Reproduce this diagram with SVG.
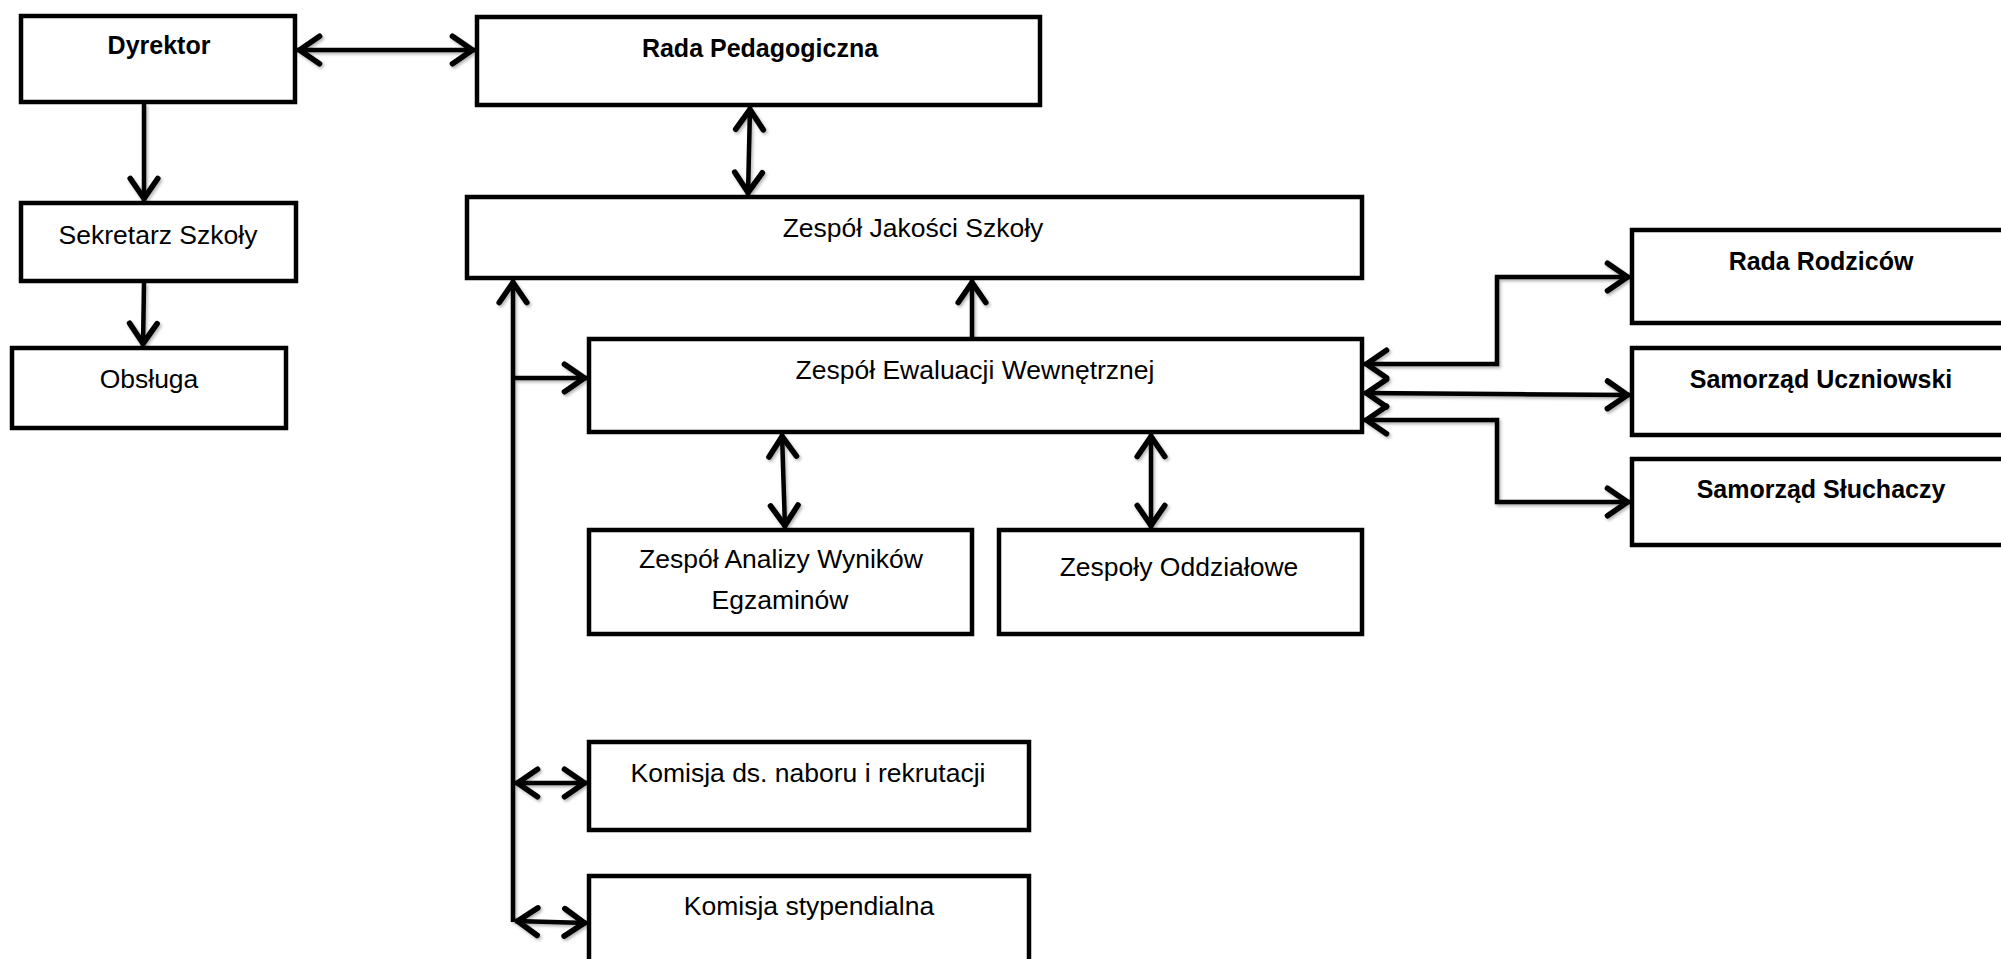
<svg xmlns="http://www.w3.org/2000/svg" width="2001" height="959" viewBox="0 0 2001 959">
  <style>
    .box { fill: #fff; stroke: #000; stroke-width: 4.5; }
    .lbl { font-family: "Liberation Sans", Arial, sans-serif; font-size: 26.5px; fill: #000; text-anchor: middle; }
    .b { font-weight: bold; font-size: 25px; }
    .con { fill: none; stroke: #000; stroke-width: 4.5; stroke-linejoin: miter; }
    .a2 { marker-start: url(#ah); marker-end: url(#ah); }
    .a1 { marker-end: url(#ah); }
    .a0 { marker-start: url(#ah); }
  </style>
  <defs>
    <marker id="ah" markerUnits="userSpaceOnUse" markerWidth="40" markerHeight="40" viewBox="-24 -16 30 32" refX="0" refY="0" orient="auto-start-reverse" overflow="visible">
      <path d="M-18,-11 L-2,0 L-18,11" fill="none" stroke="#000" stroke-width="4.5" stroke-linecap="round" stroke-linejoin="round"/>
    </marker>
    <filter id="sh" x="-5%" y="-5%" width="110%" height="110%">
      <feDropShadow dx="1.5" dy="2" stdDeviation="1.5" flood-color="#000" flood-opacity="0.3"/>
    </filter>
  </defs>
  <rect x="0" y="0" width="2001" height="959" fill="#fff"/>

  <g id="connectors" filter="url(#sh)">
    <path class="con a2" d="M297,50 H475"/>
    <path class="con a1" d="M144,104 V201"/>
    <path class="con a1" d="M144,283 L143,346"/>
    <path class="con a2" d="M750,107 L748,195"/>
    <path class="con a0" d="M513,280 V922"/>
    <path class="con a1" d="M513,378 H587"/>
    <path class="con a1" d="M972,337 V280"/>
    <path class="con a2" d="M782,434 L785,528"/>
    <path class="con a2" d="M1151,434 V528"/>
    <path class="con a2" d="M515,783 H587"/>
    <path class="con a2" d="M515,921 L587,923"/>
    <path class="con a2" d="M1364,364 H1497 V277 H1630"/>
    <path class="con a2" d="M1364,393 L1630,395"/>
    <path class="con a2" d="M1364,420 H1497 V502 H1630"/>
  </g>

  <g id="dyrektor">
    <rect class="box" x="21" y="16" width="274" height="86"/>
    <text class="lbl b" x="159" y="54">Dyrektor</text>
  </g>
  <g id="sekretarz">
    <rect class="box" x="21" y="203" width="275" height="78"/>
    <text class="lbl" x="158" y="244">Sekretarz Szkoły</text>
  </g>
  <g id="obsluga">
    <rect class="box" x="12" y="348" width="274" height="80"/>
    <text class="lbl" x="149" y="388">Obsługa</text>
  </g>
  <g id="rada-pedagogiczna">
    <rect class="box" x="477" y="17" width="563" height="88"/>
    <text class="lbl b" x="760" y="57">Rada Pedagogiczna</text>
  </g>
  <g id="zespol-jakosci">
    <rect class="box" x="467" y="197" width="895" height="81"/>
    <text class="lbl" x="913" y="237">Zespół Jakości Szkoły</text>
  </g>
  <g id="zespol-ewaluacji">
    <rect class="box" x="589" y="339" width="773" height="93"/>
    <text class="lbl" x="975" y="379">Zespół Ewaluacji Wewnętrznej</text>
  </g>
  <g id="zespol-analizy">
    <rect class="box" x="589" y="530" width="383" height="104"/>
    <text class="lbl" x="781" y="568">Zespół Analizy Wyników</text>
    <text class="lbl" x="780" y="609">Egzaminów</text>
  </g>
  <g id="zespoly-oddzialowe">
    <rect class="box" x="999" y="530" width="363" height="104"/>
    <text class="lbl" x="1179" y="576">Zespoły Oddziałowe</text>
  </g>
  <g id="komisja-naboru">
    <rect class="box" x="589" y="742" width="440" height="88"/>
    <text class="lbl" x="808" y="782">Komisja ds. naboru i rekrutacji</text>
  </g>
  <g id="komisja-stypendialna">
    <rect class="box" x="589" y="876" width="440" height="95"/>
    <text class="lbl" x="809" y="915">Komisja stypendialna</text>
  </g>
  <g id="rada-rodzicow">
    <rect class="box" x="1632" y="230" width="400" height="93"/>
    <text class="lbl b" x="1821" y="270">Rada Rodziców</text>
  </g>
  <g id="samorzad-uczniowski">
    <rect class="box" x="1632" y="348" width="400" height="87"/>
    <text class="lbl b" x="1821" y="388">Samorząd Uczniowski</text>
  </g>
  <g id="samorzad-sluchaczy">
    <rect class="box" x="1632" y="459" width="400" height="86"/>
    <text class="lbl b" x="1821" y="498">Samorząd Słuchaczy</text>
  </g>
</svg>
